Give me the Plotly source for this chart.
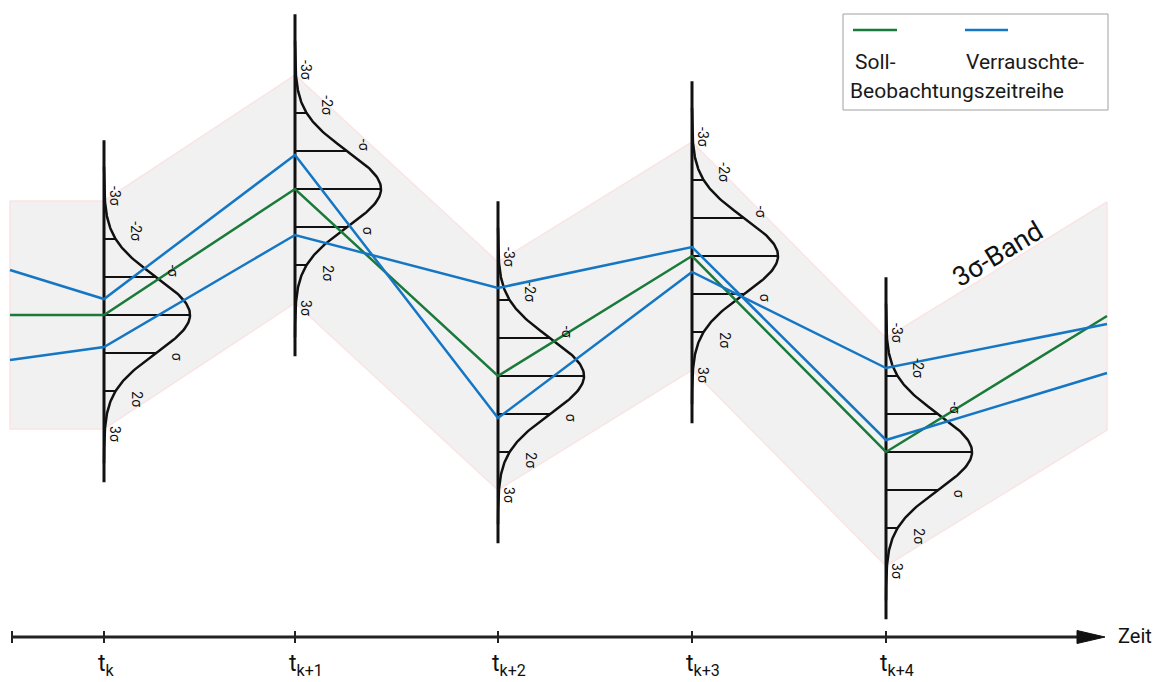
import numpy as np
import plotly.graph_objects as go

# --- time axis -------------------------------------------------------------
t_start, t_end = 10, 1107              # extent of the plotted series along "Zeit"
t_points = [104, 295, 498, 692, 886]   # sampling instants t_k ... t_k+4
t_subs = ["k", "k+1", "k+2", "k+3", "k+4"]

# --- series (value above the time axis) ------------------------------------
x_series = [t_start] + t_points + [t_end]
soll = [322, 322, 448, 261, 381, 185, 321]          # Soll-Zeitreihe
beob_a = [367, 338, 482, 219, 365, 269, 313]        # verrauschte Beobachtung 1
beob_b = [277, 290, 402, 349, 390, 197, 264]        # verrauschte Beobachtung 2

# --- noise model ------------------------------------------------------------
sigma = 38
peak_width = 86
sigma_steps = [-3, -2, -1, 1, 2, 3]
sigma_texts = ["-3σ", "-2σ", "-σ", "σ", "2σ", "3σ"]

GREEN = "#197a3a"
BLUE = "#1577c4"
BLACK = "#111111"
FONT = "Roboto"

fig = go.Figure()

# 3σ band around the Soll series
upper = [v + 3 * sigma for v in soll]
lower = [v - 3 * sigma for v in soll]
fig.add_trace(go.Scatter(
    x=x_series + x_series[::-1] + [x_series[0]],
    y=upper + lower[::-1] + [upper[0]],
    mode="lines", fill="toself", fillcolor="#f1f1f1",
    line=dict(color="#fbe4e4", width=1.5), hoverinfo="skip", showlegend=False))

# normal distributions at each instant
label_dx = {-3: 10, -2: 20, -1: 17, 1: 21, 2: 21, 3: 10}
label_dy = {-3: 5, -2: 8, -1: 6, 1: -4, 2: -8, 3: -5}
z = np.linspace(-3.9, 3.9, 200)
annotations = []
for t, c in zip(t_points, soll[1:6]):
    # vertical axis of the density
    fig.add_trace(go.Scatter(x=[t, t], y=[c + 4.6 * sigma, c - 4.4 * sigma],
                             mode="lines", line=dict(color=BLACK, width=3),
                             hoverinfo="skip", showlegend=False))
    # horizontal lines at the mean and ±kσ
    hx, hy = [], []
    for k in [-3, -2, -1, 0, 1, 2, 3]:
        lvl = c - k * sigma
        hx += [t, t + peak_width * np.exp(-k * k / 2), None]
        hy += [lvl, lvl, None]
    fig.add_trace(go.Scatter(x=hx, y=hy, mode="lines",
                             line=dict(color=BLACK, width=2),
                             hoverinfo="skip", showlegend=False))
    # density curve
    fig.add_trace(go.Scatter(x=t + peak_width * np.exp(-z ** 2 / 2),
                             y=c - z * sigma, mode="lines",
                             line=dict(color=BLACK, width=2.5),
                             hoverinfo="skip", showlegend=False))
    for k, txt in zip(sigma_steps, sigma_texts):
        xk = t + peak_width * np.exp(-k * k / 2) + label_dx[k]
        annotations.append(dict(x=xk, y=c - k * sigma + label_dy[k], text=txt,
                                textangle=90, showarrow=False,
                                font=dict(family=FONT, size=14, color=BLACK)))

# series lines
for ys, col in [(soll, GREEN), (beob_a, BLUE), (beob_b, BLUE)]:
    fig.add_trace(go.Scatter(x=x_series, y=ys, mode="lines",
                             line=dict(color=col, width=2.5),
                             hoverinfo="skip", showlegend=False))

# time axis with arrow
axis_end = 1080
fig.add_trace(go.Scatter(x=[12, axis_end], y=[0, 0], mode="lines",
                         line=dict(color="#222222", width=3),
                         hoverinfo="skip", showlegend=False))
fig.add_trace(go.Scatter(x=[1077, 1105, 1077, 1077], y=[6.5, 0, -6.5, 6.5],
                         mode="lines", fill="toself", fillcolor="#111111",
                         line=dict(color="#111111", width=1),
                         hoverinfo="skip", showlegend=False))
tx, ty = [], []
for t in [12] + t_points:
    tx += [t, t, None]
    ty += [6, -6, None]
fig.add_trace(go.Scatter(x=tx, y=ty, mode="lines",
                         line=dict(color="#222222", width=2),
                         hoverinfo="skip", showlegend=False))
for t, s in zip(t_points, t_subs):
    annotations.append(dict(x=t - 8, y=-28, xanchor="left", yanchor="middle",
                            text=f"t<sub>{s}</sub>", showarrow=False,
                            font=dict(family=FONT, size=23, color=BLACK)))
annotations.append(dict(x=1116, y=1, xanchor="left", yanchor="middle",
                        text="Zeit", showarrow=False,
                        font=dict(family=FONT, size=20, color=BLACK)))

# band label
annotations.append(dict(x=998, y=383, text="3σ-Band", textangle=-31,
                        showarrow=False,
                        font=dict(family=FONT, size=27, color=BLACK)))

# legend box
shapes = [dict(type="rect", xref="x", yref="y", x0=843, x1=1108, y0=527, y1=623,
               line=dict(color="#a0a0a0", width=1), fillcolor="white", layer="below")]
fig.add_trace(go.Scatter(x=[853, 897], y=[607, 607], mode="lines",
                         line=dict(color=GREEN, width=2.5), name="Soll-",
                         hoverinfo="skip", showlegend=False))
fig.add_trace(go.Scatter(x=[965, 1008], y=[607, 607], mode="lines",
                         line=dict(color=BLUE, width=2.5), name="Verrauschte-",
                         hoverinfo="skip", showlegend=False))
for x0, y0, txt in [(853, 575, "Soll-"), (964, 575, "Verrauschte-"),
                    (848, 546, "Beobachtungszeitreihe")]:
    annotations.append(dict(x=x0, y=y0, xanchor="left", yanchor="middle",
                            text=txt, showarrow=False,
                            font=dict(family=FONT, size=21, color="#1a1a1a")))

fig.update_layout(
    width=1170, height=682,
    margin=dict(l=0, r=0, t=0, b=0),
    paper_bgcolor="white", plot_bgcolor="white",
    xaxis=dict(range=[0, 1170], visible=False, fixedrange=True),
    yaxis=dict(range=[-45, 637], visible=False, fixedrange=True),
    annotations=annotations, shapes=shapes,
)

fig.write_html("out.html")
